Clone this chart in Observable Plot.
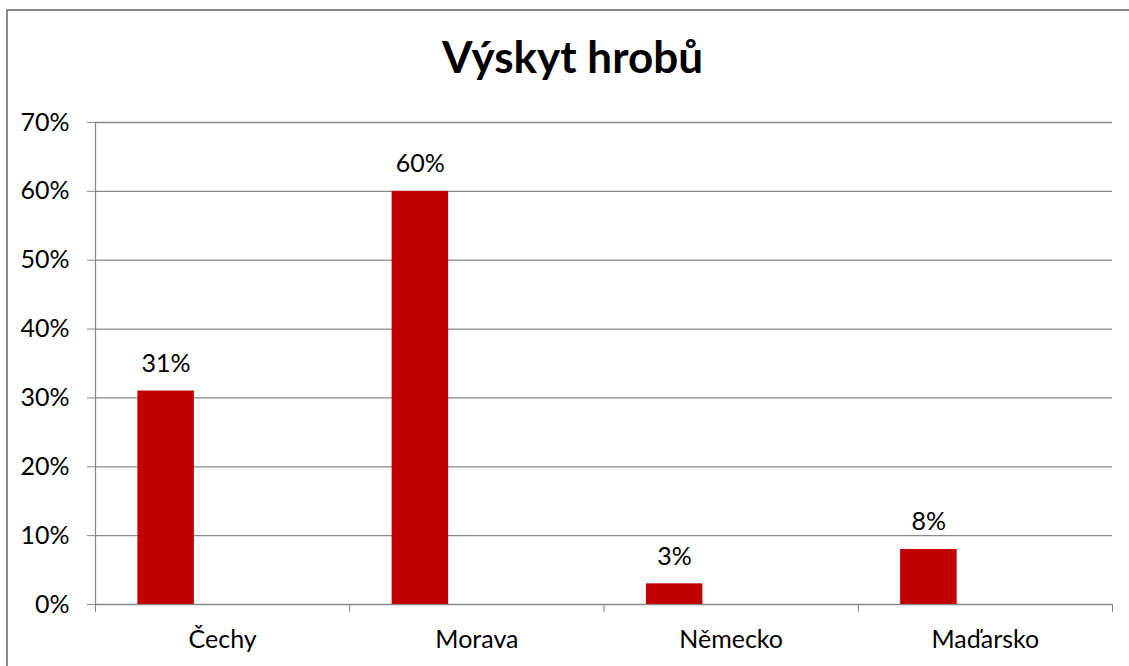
<!DOCTYPE html>
<html>
<head>
<meta charset="utf-8">
<script src="https://cdn.jsdelivr.net/npm/d3@7"></script>
<script src="https://cdn.jsdelivr.net/npm/@observablehq/plot@0.6"></script>
<style>
  html, body { margin: 0; padding: 0; background: #fff; overflow: hidden; }
  #frame { position: absolute; left: 6px; top: 9px; width: 1130px; height: 670px;
           border-left: 2px solid #898989; border-top: 2px solid #898989; pointer-events: none; }
  #title { height: 100px; box-sizing: border-box; padding-top: 30px; padding-left: 16px;
           text-align: center; font-family: Lato, "Liberation Sans", sans-serif; font-weight: bold;
           font-size: 44px; line-height: 1.2; color: #000; }
</style>
</head>
<body>
<div id="frame"></div>
<div id="title">Výskyt hrobů</div>
<div id="chart"></div>
<script>
// ---- data ----
const categories = ["Čechy", "Morava", "Německo", "Maďarsko"];
const values = [0.31, 0.60, 0.03, 0.08];
const yTicks = [0, 0.1, 0.2, 0.3, 0.4, 0.5, 0.6, 0.7];
const boundaries = [0, 1, 2, 3, 4];

// Excel-style clustered layout: 3 series slots per category, 150% gap width
const nSeries = 3, gapWidth = 1.5;
const slot = nSeries + gapWidth;
const barStart = (gapWidth / 2) / slot;
const barEnd = (gapWidth / 2 + 1) / slot;

const data = categories.map((c, i) => ({ category: c, i, value: values[i] }));
const pct = v => Math.round(v * 100) + "%";
const grey = "#898989";
const fs = 25;

const chart = Plot.plot({
  width: 1129,
  height: 566,
  marginLeft: 95,
  marginRight: 17,
  marginTop: 22,
  marginBottom: 62,
  style: { fontFamily: "Lato, 'Liberation Sans', sans-serif", fontSize: fs + "px", color: "#000", background: "transparent" },
  x: { type: "linear", domain: [0, categories.length] },
  y: { domain: [0, 0.7] },
  marks: [
    Plot.ruleY(yTicks, { stroke: grey, strokeWidth: 1.3 }),
    Plot.rectY(data, { x1: d => d.i + barStart, x2: d => d.i + barEnd, y1: 0, y2: "value", fill: "#C00000" }),
    Plot.ruleX([0], { stroke: grey, strokeWidth: 1.3 }),
    Plot.axisY({ ticks: yTicks, tickFormat: pct, tickSize: 8, tickPadding: 18, stroke: grey, fill: "#000", fontSize: fs, label: null }),
    Plot.axisX({ ticks: boundaries, tickFormat: () => "", tickSize: 8, stroke: grey, label: null }),
    Plot.text(data, { x: d => d.i + (barStart + barEnd) / 2, y: "value", text: d => pct(d.value), dy: -27, fontSize: fs, fill: "#000" }),
    Plot.text(data, { x: d => d.i + 0.5, y: () => 0, text: "category", dy: 35, fontSize: fs, fill: "#000" })
  ]
});
document.getElementById("chart").appendChild(chart);
</script>
</body>
</html>
